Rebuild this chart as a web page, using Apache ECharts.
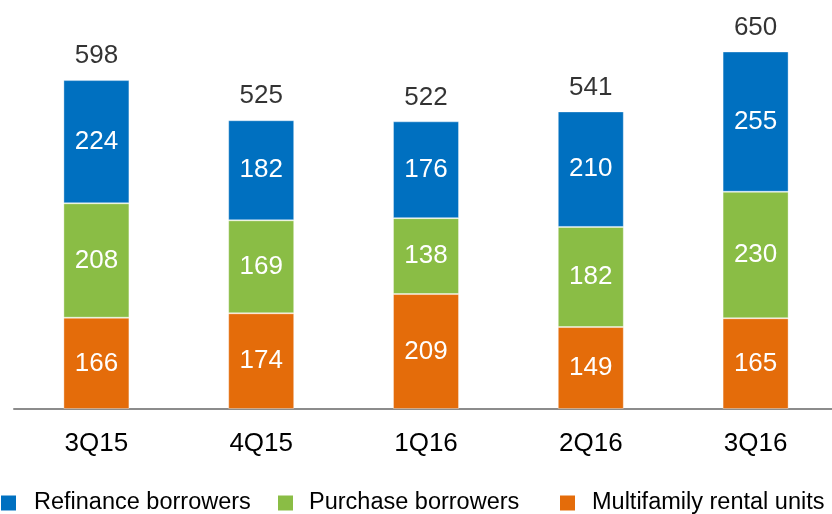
<!DOCTYPE html>
<html>
<head>
<meta charset="utf-8">
<script src="https://cdn.jsdelivr.net/npm/echarts@6/dist/echarts.min.js"></script>
<style>html,body{margin:0;padding:0;background:#fff}#c{width:832px;height:514px}</style>
</head>
<body>
<div id="c"></div>
<script>
const categories = ['3Q15', '4Q15', '1Q16', '2Q16', '3Q16'];
const multifamily = [166, 174, 209, 149, 165];
const purchase = [208, 169, 138, 182, 230];
const refinance = [224, 182, 176, 210, 255];
const totals = [598, 525, 522, 541, 650];
const seriesNames = ['Refinance borrowers', 'Purchase borrowers', 'Multifamily rental units'];
const colors = { refi: '#0070C0', purch: '#8ABD45', multi: '#E46C0A' };

const FONT = 'Arial, "Liberation Sans", sans-serif';
const chart = echarts.init(document.getElementById('c'), null, { renderer: 'canvas' });

const innerLabel = { show: true, position: 'inside', color: '#fff', fontSize: 26, fontFamily: FONT };
const bar = (name, data, color) => ({
  name, type: 'bar', stack: 'total', data, barWidth: 66,
  itemStyle: { color, borderColor: 'rgba(255,255,255,0.35)', borderWidth: 1 },
  label: innerLabel, emphasis: { disabled: true }
});
const legend = (name, left, pad) => ({
  data: [name], left, top: 491, padding: 0, icon: 'rect', itemWidth: 15, itemHeight: 15,
  itemStyle: { borderWidth: 0 },
  textStyle: { fontSize: 23.5, fontFamily: FONT, color: '#000', padding: [0, 0, 0, pad] },
  selectedMode: false
});

chart.setOption({
  animation: false,
  grid: { left: 14, width: 824, top: 24, height: 385, outerBoundsMode: 'none', containLabel: false },
  legend: [legend(seriesNames[0], 1, 13), legend(seriesNames[1], 278, 11), legend(seriesNames[2], 560, 12)],
  xAxis: {
    type: 'category', data: categories,
    axisLine: { lineStyle: { color: '#8c8c8c', width: 2 } },
    axisTick: { show: false },
    axisLabel: { fontSize: 26, fontFamily: FONT, color: '#000', margin: 22 }
  },
  yAxis: { type: 'value', min: 0, max: 700, show: false, splitLine: { show: false } },
  series: [
    bar(seriesNames[2], multifamily, colors.multi),
    bar(seriesNames[1], purchase, colors.purch),
    bar(seriesNames[0], refinance, colors.refi),
    {
      name: 'Total', type: 'scatter', data: totals, symbolSize: 0,
      label: { show: true, position: 'top', distance: 11, color: '#000', fontSize: 26, fontFamily: FONT,
               formatter: p => totals[p.dataIndex] },
      emphasis: { disabled: true }
    }
  ]
});
</script>
</body>
</html>
